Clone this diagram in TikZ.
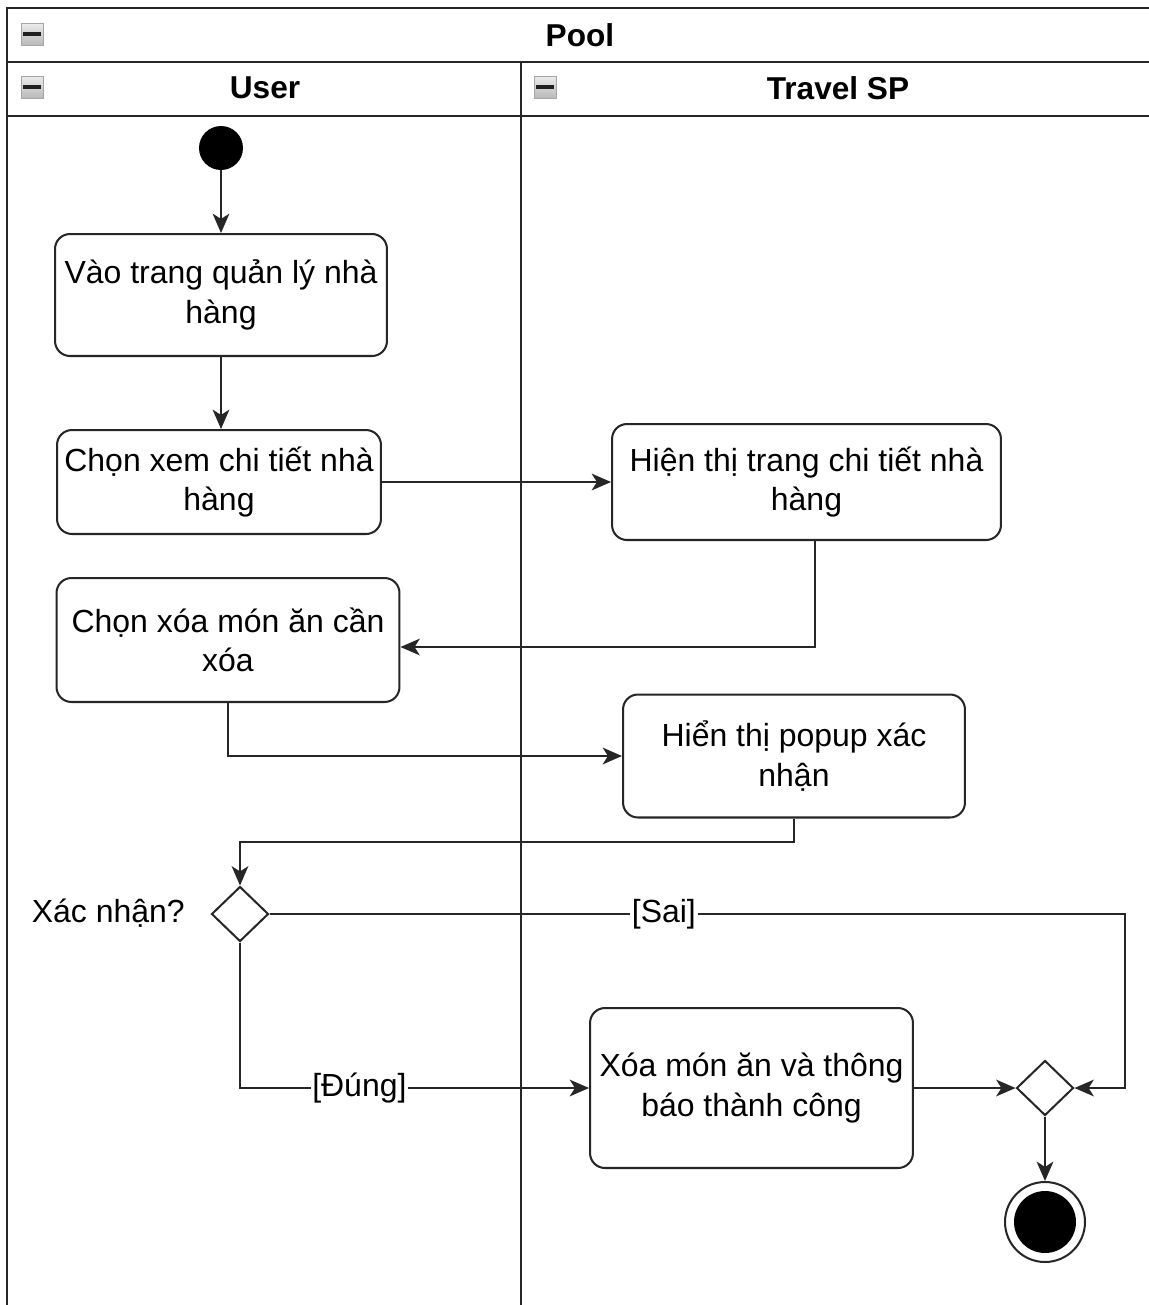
\documentclass[tikz,border=0pt]{standalone}
\usepackage{fontspec}
\setmainfont{Liberation Sans}
\usetikzlibrary{arrows.meta,shapes.geometric}
\begin{document}
\begin{tikzpicture}[x=0.02cm,y=-0.02cm,
  lane/.style={draw=black!85, line width=1.7pt},
  act/.style={draw=black!85, line width=1.15pt, rounded corners=8.5pt, align=center,
    font=\fontsize{18.2}{22.5}\selectfont, inner sep=0pt},
  dec/.style={diamond, draw=black!85, line width=1.15pt, inner sep=0pt,
    minimum width=1.14cm, minimum height=1.1cm},
  conn/.style={draw=black!85, line width=1.15pt, -{Stealth[length=11pt,width=9.5pt,inset=3pt]}},
  lbl/.style={fill=white, inner sep=1pt, font=\fontsize{18.2}{22}\selectfont},
  hdr/.style={font=\fontsize{18}{22}\selectfont\bfseries},
  icon/.style={draw=gray!70, line width=0.4pt, top color=gray!15, bottom color=gray!55},
]
\useasboundingbox (0,0) rectangle (1149,1305);
\fill[white] (0,0) rectangle (1149,1305);

% pool and lanes
\draw[lane] (7,8) rectangle (1160,1312);
\draw[lane] (7,62) -- (1160,62);
\draw[lane] (7,116) -- (1160,116);
\draw[lane] (521,62) -- (521,1312);

\node[hdr] (pooltitle) at (580,35) {Pool};
\node[hdr] (usertitle) at (265,88) {User};
\node[hdr] (sptitle) at (838,88) {Travel SP};

% collapse icons
\foreach \ix/\iy in {21/23, 21/76, 534/76}{
  \shade[icon] (\ix,\iy) rectangle ++(22,22);
  \fill[gray!25!black] (\ix+2,\iy+9) rectangle ++(18,4);
}

% nodes
\node[circle, fill=black, inner sep=0pt, minimum size=0.88cm] (start) at (221,148) {};
\node[act, minimum width=6.64cm, minimum height=2.44cm] (a1) at (221,295) {Vào trang quản lý nhà\\hàng};
\node[act, minimum width=6.48cm, minimum height=2.08cm] (a2) at (219,482) {Chọn xem chi tiết nhà\\hàng};
\node[act, minimum width=7.78cm, minimum height=2.32cm] (b1) at (806.5,482) {Hiện thị trang chi tiết nhà\\hàng};
\node[act, minimum width=6.86cm, minimum height=2.48cm] (a3) at (228,640) {Chọn xóa món ăn cần\\xóa};
\node[act, minimum width=6.84cm, minimum height=2.46cm] (b2) at (794,756) {Hiển thị popup xác\\nhận};
\node[dec] (d1) at (240,914) {};
\node[anchor=east, font=\fontsize{18.2}{22}\selectfont] (d1lbl) at (191,913) {Xác nhận?};
\node[act, minimum width=6.46cm, minimum height=3.2cm] (a4) at (751.5,1088) {Xóa món ăn và thông\\báo thành công};
\node[dec] (d2) at (1045,1088) {};
\node[circle, draw=black!85, line width=1.15pt, inner sep=0pt, minimum size=1.6cm] (end) at (1045,1222) {};
\node[circle, fill=black, inner sep=0pt, minimum size=1.24cm] (endin) at (end.center) {};

% connectors
\draw[conn] (start) -- (a1);
\draw[conn] (a1.south -| start) -- (a2.north -| start);
\draw[conn] (a2.east) -- (a2.east -| b1.west);
\draw[conn] (b1.south -| 815,0) |- (a3.east |- 0,647);
\draw[conn] (a3.south) |- (b2.west);
\draw[conn] (b2.south) -- (794,842) -| (d1.north);
\draw[conn] (d1.east) -- node[lbl, pos=0.461] {[Sai]} (1125,914) |- (d2.east);
\draw[conn] (d1.south) |- node[lbl, pos=0.671] {[Đúng]} (a4.west);
\draw[conn] (a4.east) -- (d2.west);
\draw[conn] (d2.south) -- (end.north);
\end{tikzpicture}
\end{document}
